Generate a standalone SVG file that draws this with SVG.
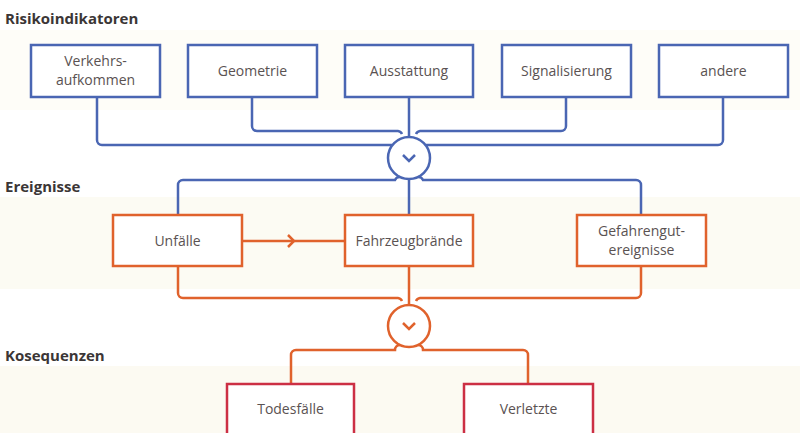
<svg xmlns="http://www.w3.org/2000/svg" width="800" height="433" viewBox="0 0 800 433">
<style>
.h{font-family:"Open Sans","Liberation Sans",sans-serif;font-weight:700;font-size:15px;fill:#3b3636}
.t{font-family:"Open Sans","Liberation Sans",sans-serif;font-size:14px;fill:#5a5252;text-anchor:middle}
.bb{fill:#fff;stroke:#4a66b3;stroke-width:2.5}
.ob{fill:#fff;stroke:#e0622c;stroke-width:2.5}
.rb{fill:#fff;stroke:#cc2f44;stroke-width:2.5}
.bl{fill:none;stroke:#4a66b3;stroke-width:2.5}
.ol{fill:none;stroke:#e0622c;stroke-width:2.5}
</style>
<rect width="800" height="433" fill="#fff"/>
<rect x="0" y="30" width="800" height="80" fill="#fefdf8"/>
<rect x="0" y="197" width="800" height="92" fill="#fcfbf3"/>
<rect x="0" y="366" width="800" height="67" fill="#fcfaf2"/>
<text class="h" x="5" y="24">Risikoindikatoren</text>
<text class="h" x="5" y="192">Ereignisse</text>
<text class="h" x="5" y="361">Kosequenzen</text>
<g id="connectors">
<path class="bl" d="M97 97V140a5 5 0 0 0 5 5H392"/>
<path class="bl" d="M252 97V126a5 5 0 0 0 5 5H398a5 5 0 0 1 4 3"/>
<path class="bl" d="M409 97V137"/>
<path class="bl" d="M566 97V126a5 5 0 0 1 -5 5H420a5 5 0 0 0 -4 3"/>
<path class="bl" d="M723 97V140a5 5 0 0 1 -5 5H426"/>
<circle class="bl" cx="409" cy="158" r="21" fill="#fff"/>
<path class="bl" d="M403 155l6 6 6-6" stroke-width="3"/>
<path class="bl" d="M400 177a5 5 0 0 0 -5 3H183a5 5 0 0 0 -5 5V215"/>
<path class="bl" d="M409 179V215"/>
<path class="bl" d="M418 177a5 5 0 0 1 5 3H636a5 5 0 0 1 5 5V215"/>
<path class="ol" d="M242 241H345"/>
<path class="ol" d="M288 235l6 6-6 6" stroke-width="3"/>
<path class="ol" d="M178 266V293a5 5 0 0 0 5 5H398a5 5 0 0 1 4 3"/>
<path class="ol" d="M409 266V305"/>
<path class="ol" d="M641 266V293a5 5 0 0 1 -5 5H420a5 5 0 0 0 -4 3"/>
<circle class="ol" cx="409" cy="326" r="21" fill="#fff"/>
<path class="ol" d="M403 323l6 6 6-6" stroke-width="3"/>
<path class="ol" d="M400 345a5 5 0 0 0 -5 5H296a5 5 0 0 0 -5 5V384"/>
<path class="ol" d="M418 345a5 5 0 0 1 5 5H523a5 5 0 0 1 5 5V384"/>
</g>
<g id="verkehr"><rect class="bb" x="31" y="45" width="129" height="52"/><text class="t" x="95.5" y="66">Verkehrs-</text><text class="t" x="95.5" y="85">aufkommen</text></g>
<g id="geometrie"><rect class="bb" x="188" y="45" width="129" height="52"/><text class="t" x="252.5" y="76">Geometrie</text></g>
<g id="ausstattung"><rect class="bb" x="345" y="45" width="128" height="52"/><text class="t" x="409" y="76">Ausstattung</text></g>
<g id="signalisierung"><rect class="bb" x="502" y="45" width="129" height="52"/><text class="t" x="566.5" y="76">Signalisierung</text></g>
<g id="andere"><rect class="bb" x="659" y="45" width="129" height="52"/><text class="t" x="723.5" y="76">andere</text></g>
<g id="unfaelle"><rect class="ob" x="113" y="215" width="129" height="51"/><text class="t" x="177.5" y="246">Unfälle</text></g>
<g id="fahrzeugbraende"><rect class="ob" x="345" y="215" width="128" height="51"/><text class="t" x="409" y="246">Fahrzeugbrände</text></g>
<g id="gefahrengut"><rect class="ob" x="577" y="215" width="129" height="51"/><text class="t" x="641.5" y="236">Gefahrengut-</text><text class="t" x="641.5" y="255">ereignisse</text></g>
<g id="todesfaelle"><rect class="rb" x="227" y="384" width="127" height="60"/><text class="t" x="290.5" y="414">Todesfälle</text></g>
<g id="verletzte"><rect class="rb" x="464" y="384" width="129" height="60"/><text class="t" x="528.5" y="414">Verletzte</text></g>
</svg>
